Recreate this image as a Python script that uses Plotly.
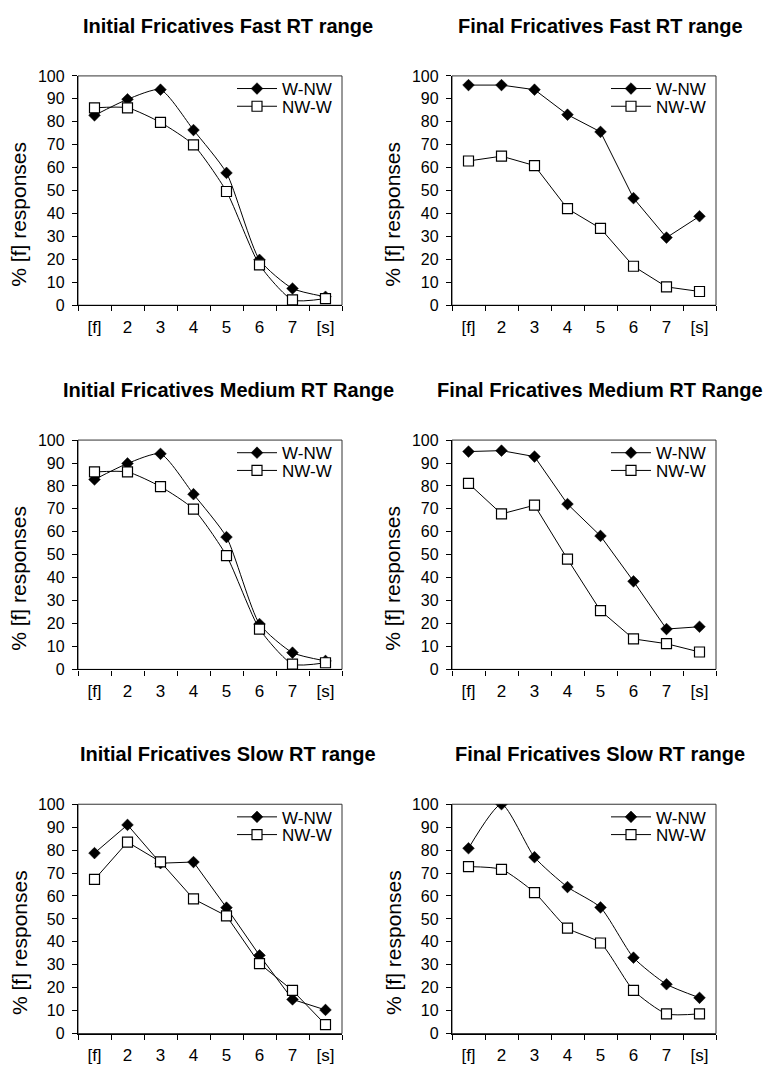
import plotly.graph_objects as go

categories = ["[f]", "2", "3", "4", "5", "6", "7", "[s]"]

titles = [
    "Initial Fricatives Fast RT range",
    "Final Fricatives Fast RT range",
    "Initial Fricatives Medium RT Range",
    "Final Fricatives Medium RT Range",
    "Initial Fricatives Slow RT range",
    "Final Fricatives Slow RT range",
]

initial_fast_wnw = [82.8, 89.8, 94.0, 76.4, 57.7, 19.8, 7.3, 3.7]
initial_fast_nww = [86.1, 86.1, 79.7, 69.9, 49.6, 17.6, 2.3, 2.9]

final_fast_wnw = [96.0, 96.0, 94.0, 83.1, 75.6, 46.7, 29.5, 38.8]
final_fast_nww = [62.9, 65.0, 60.9, 42.1, 33.5, 17.0, 8.0, 6.0]

initial_medium_wnw = [82.8, 89.8, 94.0, 76.4, 57.7, 19.8, 7.3, 3.7]
initial_medium_nww = [86.1, 86.1, 79.7, 69.9, 49.6, 17.6, 2.3, 2.9]

final_medium_wnw = [95.0, 95.4, 92.8, 72.1, 58.2, 38.4, 17.6, 18.6]
final_medium_nww = [81.1, 67.8, 71.6, 48.1, 25.6, 13.3, 11.2, 7.6]

initial_slow_wnw = [78.7, 91.0, 74.3, 74.8, 54.9, 34.1, 14.9, 10.3]
initial_slow_nww = [67.2, 83.5, 74.9, 58.7, 51.3, 30.5, 18.8, 3.9]

final_slow_wnw = [80.8, 100.0, 76.9, 63.9, 55.0, 33.1, 21.5, 15.6]
final_slow_nww = [72.8, 71.6, 61.5, 46.0, 39.5, 18.8, 8.6, 8.6]

series_names = ["W-NW", "NW-W"]
y_ticks = [0, 10, 20, 30, 40, 50, 60, 70, 80, 90, 100]

panels = [
    (initial_fast_wnw, initial_fast_nww, "spline"),
    (final_fast_wnw, final_fast_nww, "linear"),
    (initial_medium_wnw, initial_medium_nww, "spline"),
    (final_medium_wnw, final_medium_nww, "linear"),
    (initial_slow_wnw, initial_slow_nww, "linear"),
    (final_slow_wnw, final_slow_nww, "spline"),
]

W, H = 770, 1078
col_left = [78, 452]
plot_w = 264
row_top = [69, 439, 809]
plot_h = 233
title_cx = [228, 600]

FONT = "Arial, Liberation Sans, Helvetica, sans-serif"

fig = go.Figure()
layout = dict(
    width=W, height=H,
    margin=dict(l=0, r=0, t=0, b=0),
    paper_bgcolor="white", plot_bgcolor="white",
    font=dict(family=FONT, color="black"),
    showlegend=True,
)
annotations = []
shapes = []
leg_count = 0

for i, (wnw, nww, shape) in enumerate(panels):
    r, c = divmod(i, 2)
    idx = i + 1
    xs = "x" if idx == 1 else f"x{idx}"
    ys = "y" if idx == 1 else f"y{idx}"
    x0 = col_left[c] / W
    x1 = (col_left[c] + plot_w) / W
    y1 = 1 - row_top[r] / H
    y0 = 1 - (row_top[r] + plot_h) / H

    specs = [
        (wnw, series_names[0],
         dict(symbol="diamond", size=9, color="black",
              line=dict(color="black", width=0.5))),
        (nww, series_names[1],
         dict(symbol="square", size=10, color="white",
              line=dict(color="black", width=1.2))),
    ]
    for k, (vals, name, mk) in enumerate(specs):
        leg_count += 1
        lg = "legend" if leg_count == 1 else f"legend{leg_count}"
        fig.add_trace(go.Scatter(
            x=categories, y=vals, name=name, mode="lines+markers",
            xaxis=xs, yaxis=ys, legend=lg,
            line=dict(color="black", width=1, shape=shape, smoothing=0.6),
            marker=mk,
        ))
        layout[lg] = dict(
            x=(col_left[c] + 154) / W,
            y=1 - (row_top[r] - 5 + 18 * k) / H,
            xanchor="left", yanchor="top",
            bgcolor="rgba(0,0,0,0)", borderwidth=0,
            font=dict(size=17, family=FONT, color="black"),
            itemwidth=40, tracegroupgap=0,
        )

    xa = "xaxis" if idx == 1 else f"xaxis{idx}"
    ya = "yaxis" if idx == 1 else f"yaxis{idx}"
    layout[xa] = dict(
        domain=[x0, x1], anchor=ys, type="category",
        categoryorder="array", categoryarray=categories,
        range=[-0.5, 7.5], tickson="boundaries",
        showline=True, linecolor="black", linewidth=1.3,
        ticks="outside", ticklen=5, tickwidth=1, tickcolor="black",
        showgrid=False, zeroline=False,
        tickfont=dict(size=17, family=FONT, color="black"),
        ticklabelstandoff=6,
    )
    layout[ya] = dict(
        domain=[y0, y1], anchor=xs, range=[0, 100],
        tickvals=y_ticks, ticktext=[str(v) for v in y_ticks],
        showline=True, linecolor="black", linewidth=1.3,
        ticks="outside", ticklen=5, tickwidth=1, tickcolor="black",
        showgrid=False, zeroline=False,
        tickfont=dict(size=16, family=FONT, color="black"),
        ticklabelstandoff=4,
    )
    # plot area border (top and right)
    shapes.append(dict(
        type="rect", xref=f"{xs} domain", yref=f"{ys} domain",
        x0=0, x1=1, y0=0, y1=1, line=dict(color="#333333", width=1),
        layer="below",
    ))
    # panel title
    annotations.append(dict(
        text=f"<b>{titles[i]}</b>", xref="paper", yref="paper",
        x=title_cx[c] / W, y=1 - (row_top[r] - 51) / H,
        xanchor="center", yanchor="middle", showarrow=False,
        font=dict(size=20, family=FONT, color="black"),
    ))
    # y-axis title
    annotations.append(dict(
        text="% [f] responses", xref="paper", yref="paper",
        x=(19 + 374 * c) / W, y=1 - (row_top[r] + 141) / H,
        xanchor="center", yanchor="middle", textangle=-90, showarrow=False,
        font=dict(size=21, family=FONT, color="black"),
    ))

layout["annotations"] = annotations
layout["shapes"] = shapes
fig.update_layout(**layout)

fig.write_html("out.html")
